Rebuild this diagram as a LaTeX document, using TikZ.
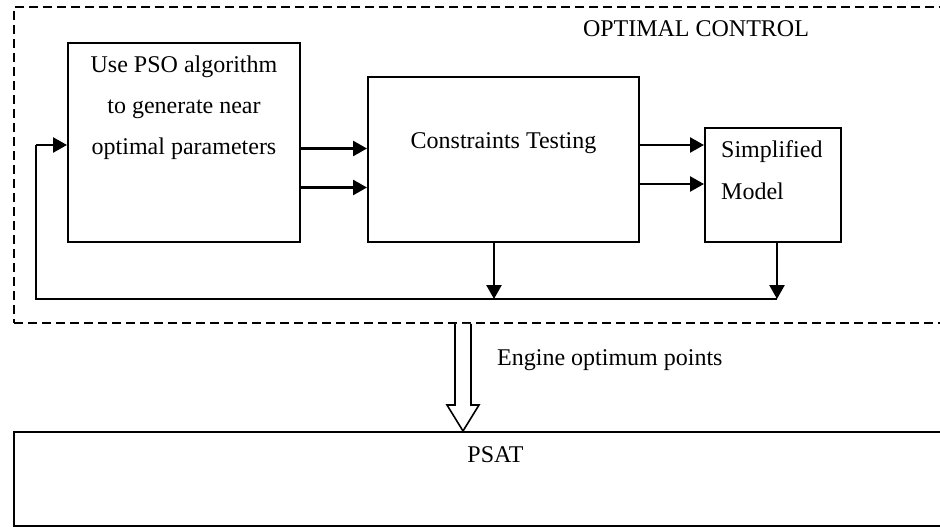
\documentclass[tikz,border=0pt]{standalone}
\usepackage{fontspec}
\setmainfont{Liberation Serif}
\usetikzlibrary{arrows.meta,calc}
\begin{document}
\begin{tikzpicture}[x=1pt,y=-1pt,
  box/.style={draw,line width=2pt,inner sep=0pt},
  dbox/.style={draw,line width=1.8pt,dash pattern=on 9pt off 5pt,inner sep=0pt},
  arr/.style={line width=2.6pt,-{Triangle[length=14pt,width=15pt]}},
  line/.style={line width=2.6pt},
  txt/.style={font=\fontsize{24}{41}\selectfont,inner sep=0pt}]
\useasboundingbox (0,0) rectangle (940,527);
\clip (0,0) rectangle (940,527);
\fill[white] (0,0) rectangle (940,527);
% dashed outer region
\node[dbox,minimum width=946pt,minimum height=316pt] (oc) at (487,165) {};
\node[txt,anchor=base] (octxt) at (696,37) {OPTIMAL CONTROL};
% blocks
\node[box,minimum width=232pt,minimum height=199pt] (pso) at (184,142.5) {};
\node[txt,align=center] (psotxt) at (184,108) {Use PSO algorithm\\to generate near\\optimal parameters};
\node[box,minimum width=271pt,minimum height=165pt] (cons) at (503.5,159.5) {};
\node[txt,anchor=base] (constxt) at (503.5,148) {Constraints Testing};
\node[box,minimum width=136pt,minimum height=114pt] (simp) at (773,185) {};
\node[txt,align=left,anchor=west,font=\fontsize{24}{42}\selectfont] (simptxt) at (721,170) {Simplified\\Model};
% PSAT
\node[box,minimum width=946pt,minimum height=94pt] (psat) at (487,479) {};
\node[txt,anchor=base] (psattxt) at (495.5,462) {PSAT};
% forward arrows
\coordinate (a1) at ($(pso.east)+(0,6)$);
\coordinate (a2) at ($(pso.east)+(0,45)$);
\draw[arr] (a1) -- (a1 -| cons.west);
\draw[arr] (a2) -- (a2 -| cons.west);
\coordinate (b1) at ($(cons.east)+(0,-14.5)$);
\coordinate (b2) at ($(cons.east)+(0,24.5)$);
\draw[arr] (b1) -- (b1 -| simp.west);
\draw[arr] (b2) -- (b2 -| simp.west);
% feedback
\coordinate (fbC) at (494,299);
\coordinate (fbS) at (777,299);
\coordinate (fbL) at (36,299);
\coordinate (pin) at ($(pso.west)+(0,2.5)$);
\draw[arr] (fbC |- cons.south) -- (fbC);
\draw[arr] (fbS |- simp.south) -- (fbS);
\draw[line width=2pt] (fbS) -- (fbL) -- (fbL |- pin);
\draw[arr] (fbL |- pin) -- (pin);
% hollow block arrow
\coordinate (hs) at (oc.south -| 463,0);
\coordinate (ht) at (psat.north -| 463,0);
\draw[line width=1.6pt,fill=white,line join=miter]
  ($(hs)+(-8,0)$) -- ($(ht)+(-8,-26)$) -- ($(ht)+(-16,-26)$) -- (ht)
  -- ($(ht)+(16,-26)$) -- ($(ht)+(8,-26)$) -- ($(hs)+(8,0)$);
\node[txt,anchor=base west] (eng) at (497,365) {Engine optimum points};
\end{tikzpicture}
\end{document}
